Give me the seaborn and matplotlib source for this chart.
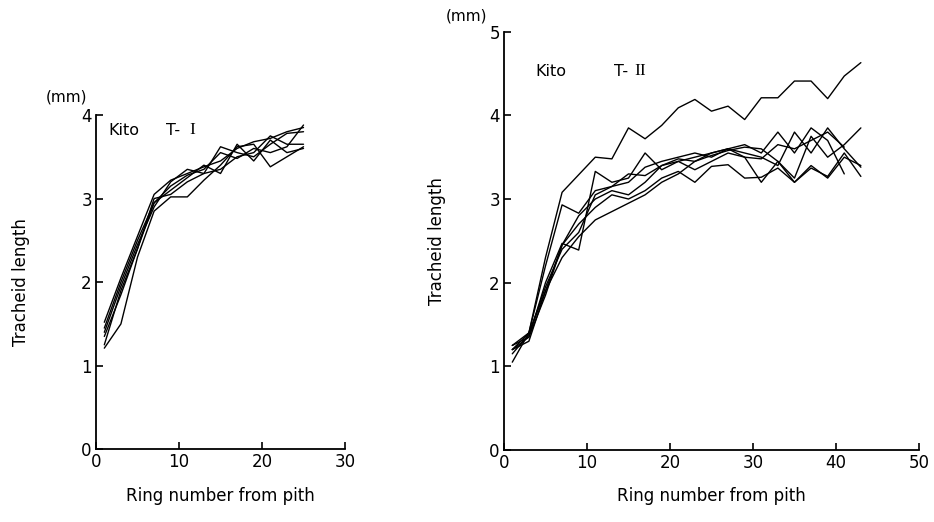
import pandas as pd
import matplotlib.pyplot as plt
import seaborn as sns

# ring numbers (every second ring)
ring_t1 = [1, 3, 5, 7, 9, 11, 13, 15, 17, 19, 21, 23, 25]
ring_t2 = [1, 3, 5, 7, 9, 11, 13, 15, 17, 19, 21, 23, 25, 27, 29, 31, 33, 35, 37, 39, 41, 43]

# T-I trees (mm)
t1_a = [1.52, 2.05, 2.55, 3.05, 3.22, 3.30, 3.38, 3.45, 3.60, 3.68, 3.72, 3.80, 3.85]
t1_b = [1.40, 1.95, 2.45, 2.90, 3.20, 3.35, 3.30, 3.62, 3.55, 3.50, 3.65, 3.78, 3.80]
t1_c = [1.21, 1.50, 2.30, 2.85, 3.02, 3.02, 3.22, 3.40, 3.62, 3.65, 3.38, 3.50, 3.62]
t1_d = [1.25, 1.90, 2.40, 2.95, 3.10, 3.25, 3.40, 3.30, 3.65, 3.45, 3.70, 3.55, 3.60]
t1_e = [1.45, 2.00, 2.50, 2.95, 3.15, 3.28, 3.35, 3.55, 3.48, 3.60, 3.55, 3.62, 3.88]
t1_f = [1.35, 1.85, 2.40, 3.00, 3.05, 3.20, 3.30, 3.35, 3.50, 3.55, 3.75, 3.65, 3.65]

# T-II trees (mm)
t2_a = [1.20, 1.40, 2.30, 3.08, 3.29, 3.50, 3.48, 3.85, 3.72, 3.88, 4.09, 4.19, 4.05,
        4.11, 3.95, 4.21, 4.21, 4.41, 4.41, 4.20, 4.47, 4.63]
t2_b = [1.20, 1.35, 2.00, 2.47, 2.39, 3.33, 3.20, 3.25, 3.55, 3.35, 3.45, 3.50, 3.55,
        3.60, 3.55, 3.50, 3.40, 3.80, 3.55, 3.85, 3.60, 3.38]
t2_c = [1.25, 1.40, 2.20, 2.93, 2.83, 3.10, 3.15, 3.30, 3.28, 3.40, 3.48, 3.45, 3.52,
        3.58, 3.62, 3.60, 3.45, 3.20, 3.40, 3.25, 3.50, 3.40]
t2_d = [1.15, 1.38, 1.95, 2.40, 2.60, 3.05, 3.15, 3.20, 3.38, 3.45, 3.50, 3.55, 3.50,
        3.60, 3.65, 3.55, 3.80, 3.55, 3.85, 3.70, 3.30]
t2_e = [1.25, 1.35, 1.85, 2.45, 2.80, 3.00, 3.10, 3.05, 3.20, 3.40, 3.45, 3.35, 3.45,
        3.55, 3.50, 3.48, 3.65, 3.60, 3.70, 3.80, 3.62]
t2_f = [1.05, 1.40, 1.90, 2.30, 2.55, 2.75, 2.85, 2.95, 3.05, 3.20, 3.30, 3.45, 3.55,
        3.60, 3.50, 3.20, 3.45, 3.25, 3.75, 3.50, 3.65, 3.85]
t2_g = [1.20, 1.30, 1.90, 2.45, 2.70, 2.90, 3.05, 3.00, 3.10, 3.25, 3.33, 3.20, 3.39,
        3.41, 3.25, 3.26, 3.37, 3.20, 3.37, 3.27, 3.55, 3.27]


def to_long(ring, series):
    rows = []
    for name, vals in series.items():
        for r, v in zip(ring, vals):
            rows.append({'tree': name, 'ring': r, 'length': v})
    return pd.DataFrame(rows)


df1 = to_long(ring_t1, {'a': t1_a, 'b': t1_b, 'c': t1_c, 'd': t1_d, 'e': t1_e, 'f': t1_f})
df2 = to_long(ring_t2, {'a': t2_a, 'b': t2_b, 'c': t2_c, 'd': t2_d,
                        'e': t2_e, 'f': t2_f, 'g': t2_g})

sns.set_style('ticks')
plt.rcParams['font.family'] = ['DejaVu Sans']
plt.rcParams['text.color'] = 'black'
plt.rcParams['axes.labelcolor'] = 'black'

fig = plt.figure(figsize=(9.34, 5.22), dpi=100)
ax1 = fig.add_axes([0.1028, 0.1393, 0.2666, 0.6404])
ax2 = fig.add_axes([0.5396, 0.1379, 0.4443, 0.8014])

for ax, df, xmax, ymax, ypad in [(ax1, df1, 30, 4, 37), (ax2, df2, 50, 5, 31)]:
    sns.lineplot(data=df, x='ring', y='length', units='tree', estimator=None,
                 color='black', lw=1.0, ax=ax, legend=False)
    ax.set_xlim(0, xmax)
    ax.set_ylim(0, ymax)
    ax.set_xticks(range(0, xmax + 1, 10))
    ax.set_yticks(range(0, ymax + 1))
    sns.despine(ax=ax)
    for s in ['left', 'bottom']:
        ax.spines[s].set_linewidth(1.3)
        ax.spines[s].set_color('black')
    ax.tick_params(direction='in', length=5, width=1.2, labelsize=12, colors='black', pad=3)
    ax.set_xlabel('Ring number from pith', fontsize=12, labelpad=11, color='black')
    ax.set_ylabel('Tracheid length', fontsize=12, labelpad=ypad, color='black')

# panel annotations
ax1.text(-0.035, 1.03, '(mm)', transform=ax1.transAxes, fontsize=11, va='bottom', ha='right')
ax1.text(0.05, 0.955, 'Kito', transform=ax1.transAxes, fontsize=11.5, va='center')
ax1.text(0.28, 0.955, 'T-', transform=ax1.transAxes, fontsize=11.5, va='center')
ax1.text(0.375, 0.955, 'I', transform=ax1.transAxes, fontsize=12.5, va='center',
         family='Liberation Serif')

ax2.text(-0.04, 1.02, '(mm)', transform=ax2.transAxes, fontsize=11, va='bottom', ha='right')
ax2.text(0.075, 0.905, 'Kito', transform=ax2.transAxes, fontsize=11.5, va='center')
ax2.text(0.265, 0.905, 'T-', transform=ax2.transAxes, fontsize=11.5, va='center')
ax2.text(0.315, 0.905, 'II', transform=ax2.transAxes, fontsize=12.5, va='center',
         family='Liberation Serif')

fig.savefig('out.png', dpi=100)
